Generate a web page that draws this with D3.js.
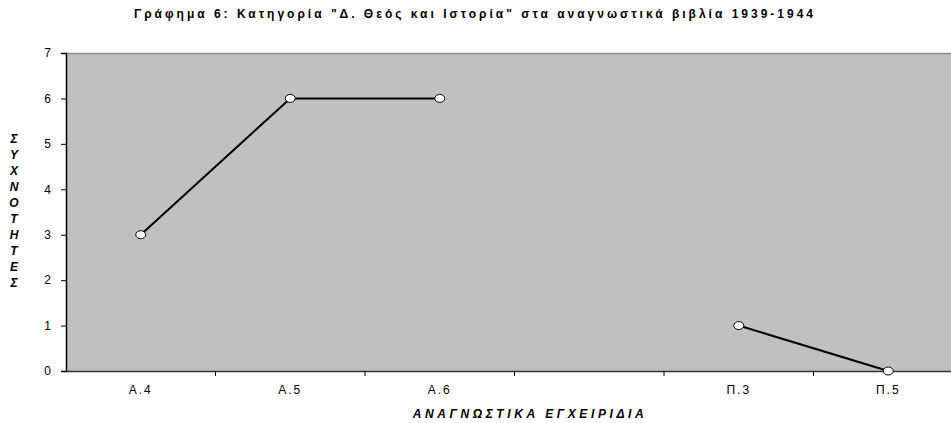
<!DOCTYPE html>
<html><head><meta charset="utf-8">
<script src="https://cdn.jsdelivr.net/npm/d3@7"></script>
<style>body{margin:0;background:#fff}svg{display:block}</style>
</head><body>
<script>
const categories = ["Α.4", "Α.5", "Α.6", "", "Π.3", "Π.5"];
const values = [3, 6, 6, null, 1, 0];
const yTicks = [0, 1, 2, 3, 4, 5, 6, 7];
const title = 'Γράφημα 6: Κατηγορία "Δ. Θεός και Ιστορία" στα αναγνωστικά βιβλία 1939-1944';
const xTitle = "ΑΝΑΓΝΩΣΤΙΚΑ ΕΓΧΕΙΡΙΔΙΑ";
const yTitle = "ΣΥΧΝΟΤΗΤΕΣ";

const W = 951, H = 423;
const L = 66, T = 53, B = 371, R = 963;
const FF = "Arial, 'Liberation Sans', sans-serif";
const svg = d3.select("body").append("svg").attr("width", W).attr("height", H)
  .style("font-family", FF);

const x = d3.scaleBand().domain(d3.range(categories.length)).range([L, R]);
const y = d3.scaleLinear().domain([0, 7]).range([B, T]);

svg.append("rect").attr("x", L).attr("y", T).attr("width", R - L).attr("height", B - T).attr("fill", "#c0c0c0");
svg.append("line").attr("x1", L).attr("x2", R).attr("y1", T + 0.5).attr("y2", T + 0.5).attr("stroke", "#8c8c8c").attr("stroke-width", 1.5);

// y axis
const ya = svg.append("g").attr("transform", `translate(${L},0)`)
  .call(d3.axisLeft(y).tickValues(yTicks).tickSize(5).tickPadding(10).tickFormat(d3.format("d")));
ya.select(".domain").attr("stroke", "#000").attr("stroke-width", 1.5);
ya.selectAll("line").attr("stroke", "#000");
ya.selectAll("text").attr("font-size", 12).attr("fill", "#000").style("font-family", FF);

// x axis
const xa = svg.append("g").attr("transform", `translate(0,${B})`)
  .call(d3.axisBottom(x).tickSize(0).tickPadding(14).tickFormat(i => categories[i]));
xa.select(".domain").attr("stroke", "#333").attr("stroke-width", 1.5);
xa.selectAll("text").attr("font-size", 12).attr("fill", "#000").attr("letter-spacing", "2px")
  .style("font-family", FF);
// boundary ticks
const bounds = d3.range(1, categories.length).map(i => x(i));
svg.selectAll(".btick").data(bounds).enter().append("line")
  .attr("x1", d => d).attr("x2", d => d).attr("y1", B).attr("y2", B + 5).attr("stroke", "#000");

// line
const line = d3.line().defined(d => d != null).x((d, i) => x(i) + x.bandwidth() / 2).y(d => y(d));
svg.append("path").datum(values).attr("d", line).attr("fill", "none").attr("stroke", "#000").attr("stroke-width", 2);
svg.selectAll(".pt").data(values.map((v, i) => ({v, i})).filter(d => d.v != null)).enter().append("ellipse")
  .attr("cx", d => x(d.i) + x.bandwidth() / 2).attr("cy", d => y(d.v)).attr("rx", 5).attr("ry", 4)
  .attr("fill", "#fff").attr("stroke", "#000").attr("stroke-width", 1);

// title
svg.append("text").attr("x", 475).attr("y", 18).attr("text-anchor", "middle")
  .attr("font-size", 12).attr("font-weight", "bold").attr("letter-spacing", "3px").text(title);
// x title
svg.append("text").attr("x", 530).attr("y", 418).attr("text-anchor", "middle")
  .attr("font-size", 12).attr("font-weight", "bold").attr("font-style", "italic").attr("letter-spacing", "3.6px").text(xTitle);
// y title stacked
svg.append("g").selectAll("text").data(yTitle.split("")).enter().append("text")
  .attr("x", 14).attr("y", (d, i) => 143 + i * 16).attr("text-anchor", "middle")
  .attr("font-size", 12).attr("font-weight", "bold").attr("font-style", "italic").text(d => d);
</script>
</body></html>
